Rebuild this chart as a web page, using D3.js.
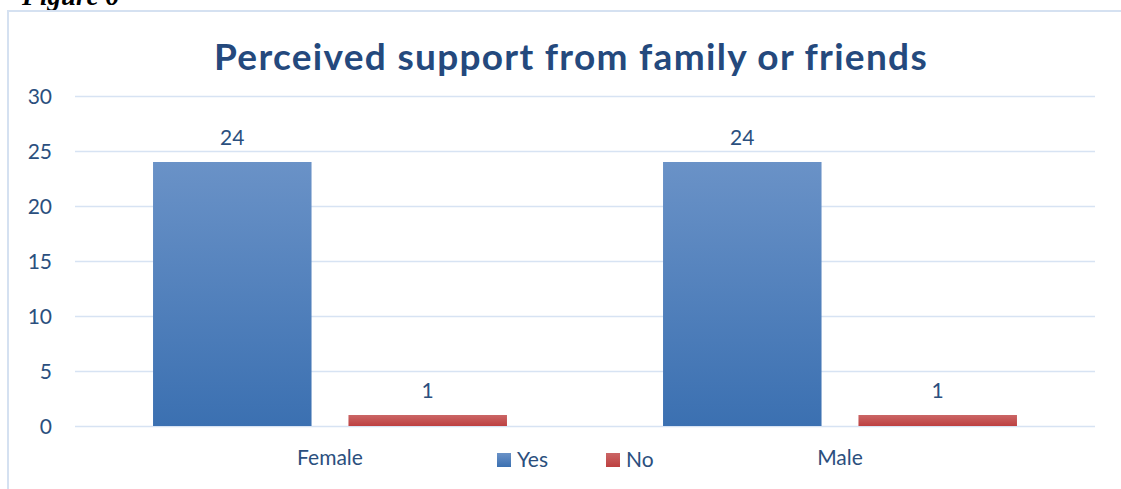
<!DOCTYPE html>
<html>
<head>
<meta charset="utf-8">
<script src="https://cdn.jsdelivr.net/npm/d3@7"></script>
<style>
  html, body { margin: 0; padding: 0; background: #ffffff; }
  svg { display: block; }
  text { font-family: Lato, "Noto Sans", sans-serif; }
</style>
</head>
<body>
<svg id="chart" width="1121" height="489"></svg>
<script>
// Survey counts by gender and answer
const categories = ["Female", "Male"];
const seriesNames = ["Yes", "No"];
const yesValues = [24, 24];
const noValues = [1, 1];
const yTicks = [0, 5, 10, 15, 20, 25, 30];

const titleText = "Perceived support from family or friends";
const captionText = "Figure 6";

const svg = d3.select("#chart");

const plot = { left: 75, right: 1095, top: 96, bottom: 426 };

const textColor = "#2b4f7e";
const titleColor = "#24497d";
const gridColor = "#d7e3f3";
const labelSize = "21px";

// Gradients for the two series
const defs = svg.append("defs");
const gradStops = {
  Yes: ["#6a92c7", "#3b70b1"],
  No: ["#cb6666", "#bd4040"]
};
seriesNames.forEach(s => {
  const g = defs.append("linearGradient")
    .attr("id", "grad-" + s)
    .attr("x1", 0).attr("y1", 0).attr("x2", 0).attr("y2", 1);
  g.append("stop").attr("offset", "0%").attr("stop-color", gradStops[s][0]);
  g.append("stop").attr("offset", "100%").attr("stop-color", gradStops[s][1]);
});

// Caption above the chart frame
svg.append("text")
  .attr("x", 22).attr("y", 5)
  .style("font-family", "'Liberation Serif', 'DejaVu Serif', serif")
  .style("font-style", "italic")
  .style("font-weight", "bold")
  .style("font-size", "27px")
  .attr("fill", "#000")
  .text(captionText);

// Chart frame
svg.append("rect")
  .attr("x", 8).attr("y", 11)
  .attr("width", 1126).attr("height", 500)
  .attr("fill", "none")
  .attr("stroke", "#d5e1f1")
  .attr("stroke-width", 2);

// Title
svg.append("text")
  .attr("x", 571).attr("y", 70)
  .attr("text-anchor", "middle")
  .style("font-weight", "bold")
  .style("font-size", "37px")
  .style("letter-spacing", "1.3px")
  .attr("fill", titleColor)
  .text(titleText);

// Scales
const y = d3.scaleLinear().domain([0, 30]).range([plot.bottom, plot.top]);
const x0 = d3.scaleBand().domain(categories)
  .range([plot.left, plot.right])
  .paddingInner(0.306).paddingOuter(0.153);
const x1 = d3.scaleBand().domain(seriesNames)
  .range([0, x0.bandwidth()])
  .paddingInner(0.189).paddingOuter(0);

// Y axis with gridlines
const yAxis = svg.append("g")
  .attr("transform", `translate(${plot.left},0)`)
  .call(d3.axisLeft(y).tickValues(yTicks)
    .tickSize(-(plot.right - plot.left)).tickPadding(23));
yAxis.select(".domain").remove();
yAxis.selectAll(".tick line")
  .attr("stroke", gridColor).attr("stroke-width", 1.6);
yAxis.selectAll(".tick text")
  .attr("fill", textColor)
  .style("font-size", labelSize)
  .attr("dy", "0.36em");

// Bars
const rows = categories.map((c, i) => ({ category: c, Yes: yesValues[i], No: noValues[i] }));
const groups = svg.append("g").selectAll("g")
  .data(rows).join("g")
  .attr("transform", d => `translate(${x0(d.category)},0)`);

groups.selectAll("rect")
  .data(d => seriesNames.map(s => ({ key: s, value: d[s] })))
  .join("rect")
  .attr("x", d => x1(d.key))
  .attr("y", d => y(d.value))
  .attr("width", x1.bandwidth())
  .attr("height", d => y(0) - y(d.value))
  .attr("fill", d => `url(#grad-${d.key})`);

// Value labels
groups.selectAll("text.value")
  .data(d => seriesNames.map(s => ({ key: s, value: d[s] })))
  .join("text")
  .attr("class", "value")
  .attr("x", d => x1(d.key) + x1.bandwidth() / 2)
  .attr("y", d => y(d.value) - 17)
  .attr("text-anchor", "middle")
  .attr("fill", textColor)
  .style("font-size", labelSize)
  .text(d => d.value);

// Category axis
const xAxis = svg.append("g")
  .attr("transform", `translate(0,${plot.bottom})`)
  .call(d3.axisBottom(x0).tickSize(0).tickPadding(0));
xAxis.select(".domain").remove();
xAxis.selectAll(".tick text")
  .attr("fill", textColor)
  .style("font-size", labelSize)
  .attr("y", 39)
  .attr("dy", 0);

// Legend
const legendItems = [
  { key: "Yes", x: 497 },
  { key: "No", x: 606 }
];
const legend = svg.append("g");
legendItems.forEach(item => {
  legend.append("rect")
    .attr("x", item.x).attr("y", 453)
    .attr("width", 14).attr("height", 14)
    .attr("fill", `url(#grad-${item.key})`);
  legend.append("text")
    .attr("x", item.x + 20).attr("y", 467)
    .attr("fill", textColor)
    .style("font-size", labelSize)
    .text(item.key);
});
</script>
</body>
</html>
